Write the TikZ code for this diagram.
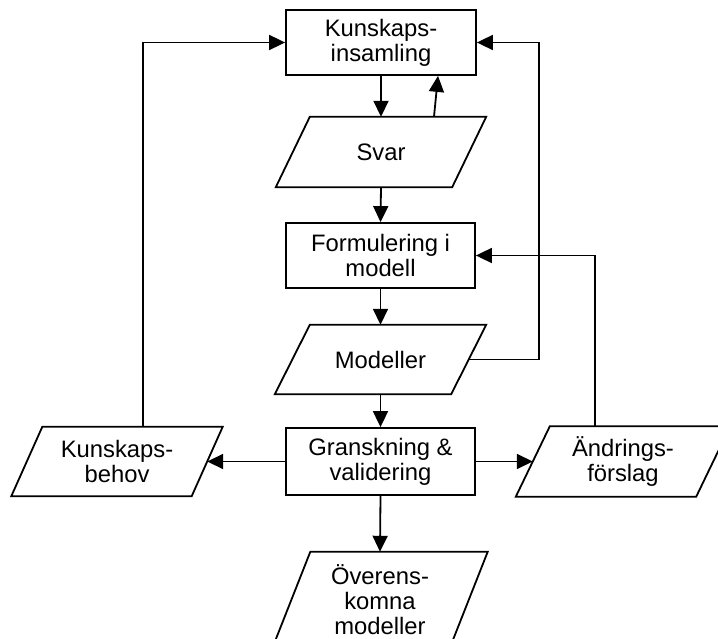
\documentclass[tikz,border=0pt]{standalone}
\usepackage{fontspec}
\setmainfont{Liberation Sans}
\usetikzlibrary{arrows.meta,calc}

\tikzset{
  box/.style={draw, rectangle, inner sep=0pt, align=center, line width=1.8pt},
  databox/.style={rectangle, inner sep=0pt, align=center},
  arr/.style={-{Triangle[length=16pt,width=15pt]}, line width=1.8pt},
  outline/.style={line width=1.8pt, line join=miter}
}

\begin{document}
\begin{tikzpicture}[x=1pt, y=-1pt,
  every node/.append style={font=\fontsize{23.8}{25}\selectfont}]
  \clip (0,0) rectangle (718,639);
  \fill[white] (0,0) rectangle (718,639);

  % process boxes
  \node[box, minimum width=190pt, minimum height=65pt] (ki) at (381,42.5) {Kunskaps-\\insamling};
  \node[box, minimum width=189pt, minimum height=65pt] (fo) at (380.5,255.5) {Formulering i\\modell};
  \node[box, minimum width=189pt, minimum height=67pt] (gv) at (380.5,461.5) {Granskning \&\\validering};

  % data (parallelogram) nodes
  \node[databox, minimum width=176pt, minimum height=70pt] (svar) at (381,152) {Svar};
  \node[databox, minimum width=176pt, minimum height=69pt] (mod) at (380.5,359.5) {Modeller};
  \node[databox, minimum width=180pt, minimum height=69pt] (kb) at (117,461.5) {Kunskaps-\\behov};
  \node[databox, minimum width=180pt, minimum height=70pt] (af) at (623,461.5) {Ändrings-\\förslag};
  \node[databox, minimum width=177pt, minimum height=96pt] (ok) at (380,600) {Överens-\\komna\\modeller};

  % parallelogram outlines around the data nodes
  \foreach \n/\o in {svar/17, mod/17.5, kb/15.5, af/17, ok/19}{
    \draw[outline] ([xshift=-\o pt]\n.south west) -- ([xshift=\o pt]\n.north west)
      -- ([xshift=\o pt]\n.north east) -- ([xshift=-\o pt]\n.south east) -- cycle;
  }

  % main flow
  \draw[arr] (ki.south) -- (svar.north);
  \draw[arr] ([xshift=53pt]svar.north) -- ([xshift=57pt]ki.south);
  \draw[arr] (svar.south) -- (fo.north);
  \draw[arr] (fo.south) -- (mod.north);
  \draw[arr] (mod.south) -- (gv.north);
  \draw[arr] (gv.south) -- (ok.north);
  \draw[arr] (gv.west) -- (kb.east);
  \draw[arr] (gv.east) -- (af.west);

  % feedback loops
  \coordinate (rt) at (539,0);
  \draw[arr] ([xshift=26pt]kb.north) |- (ki.west);
  \draw[arr] (mod.east) -- (mod.east -| rt) |- (ki.east);
  \draw[arr] ([xshift=-28pt]af.north) |- (fo.east);
\end{tikzpicture}
\end{document}
